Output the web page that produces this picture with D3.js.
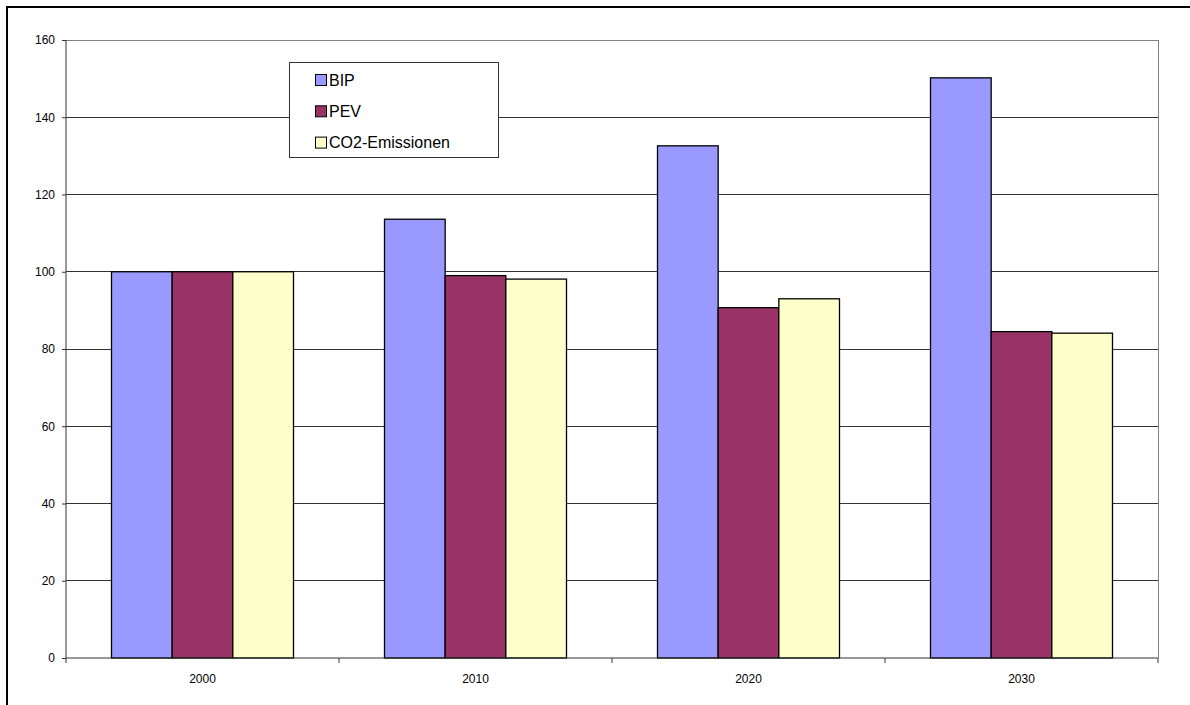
<!DOCTYPE html>
<html><head><meta charset="utf-8">
<script src="https://cdn.jsdelivr.net/npm/d3@7"></script>
<style>body{margin:0;background:#fff;}svg{display:block;font-family:"Liberation Sans",Arial,sans-serif;}</style>
</head><body>
<svg id="c" width="1190" height="705"></svg>
<script>
const categories = ["2000","2010","2020","2030"];
const seriesNames = ["BIP","PEV","CO2-Emissionen"];
const bip = [100, 113.6, 132.6, 150.2];
const pev = [100, 99.0, 90.7, 84.5];
const co2 = [100, 98.1, 93.0, 84.1];
const yTicks = [0,20,40,60,80,100,120,140,160];
const colors = ["#9999ff","#993366","#ffffcc"];

const seriesValues = [bip, pev, co2];
const svg = d3.select("#c");
const L=66, R=1158, T=40, B=658;

// outer frame
svg.append("rect").attr("x",7).attr("y",7).attr("width",1200).attr("height",720)
  .attr("fill","none").attr("stroke","#000").attr("stroke-width",2);

const x = d3.scaleBand().domain(categories).range([L,R]);
const y = d3.scaleLinear().domain([0,160]).range([B,T]);
const inner = d3.scaleBand().domain(seriesNames).range([x.bandwidth()/6, x.bandwidth()*5/6]);

// gridlines
svg.append("g").selectAll("line").data(yTicks.filter(d=>d>0)).join("line")
  .attr("x1",L).attr("x2",R).attr("y1",d=>y(d)).attr("y2",d=>y(d))
  .attr("stroke",d=>d===160?"#808080":"#333").attr("stroke-width",1).attr("shape-rendering","crispEdges");
// right border of plot area
svg.append("line").attr("x1",R).attr("x2",R).attr("y1",T).attr("y2",B)
  .attr("stroke","#808080").attr("shape-rendering","crispEdges");

// bars
const groups = svg.append("g").selectAll("g").data(categories).join("g")
  .attr("transform",d=>`translate(${x(d)},0)`);
groups.selectAll("rect").data((c,i)=>seriesNames.map((s,j)=>({s,j,v:seriesValues[j][i]}))).join("rect")
  .attr("x",d=>inner(d.s)).attr("width",inner.bandwidth())
  .attr("y",d=>y(d.v)).attr("height",d=>B-y(d.v))
  .attr("fill",d=>colors[d.j]).attr("stroke","#000").attr("stroke-width",1.3);

// y axis
const yAxis = d3.axisLeft(y).tickValues(yTicks).tickSize(4).tickPadding(7);
const gy = svg.append("g").attr("transform",`translate(${L},0)`).call(yAxis);
gy.select(".domain").attr("stroke","#333").attr("d",`M0,${T}V${B}`);
gy.selectAll(".tick line").attr("stroke","#333");
gy.selectAll("text").attr("font-size",12).attr("fill","#000").attr("font-family","Liberation Sans, Arial, sans-serif");

// x axis
const xAxis = d3.axisBottom(x).tickSize(0).tickPadding(16);
const gx = svg.append("g").attr("transform",`translate(0,${B})`).call(xAxis);
gx.select(".domain").attr("stroke","#333").attr("d",`M${L},0H${R}`);
gx.selectAll("text").attr("font-size",12).attr("fill","#000").attr("font-family","Liberation Sans, Arial, sans-serif");
svg.append("g").selectAll("line").data(categories.map(c=>x(c)).concat([R])).join("line")
  .attr("x1",d=>d).attr("x2",d=>d).attr("y1",B).attr("y2",B+5).attr("stroke","#333");

// legend
const lg = svg.append("g");
lg.append("rect").attr("x",289.5).attr("y",62.5).attr("width",209).attr("height",95)
  .attr("fill","#fff").attr("stroke","#333").attr("stroke-width",1);
seriesNames.forEach((s,j)=>{
  const cy = 80 + j*31.3;
  lg.append("rect").attr("x",315.5).attr("y",cy-5.5).attr("width",11).attr("height",11)
    .attr("fill",colors[j]).attr("stroke","#000").attr("stroke-width",1);
  lg.append("text").attr("x",329).attr("y",cy).attr("dy","0.36em")
    .attr("font-size",16).attr("fill","#000").text(s);
});
</script>
</body></html>
